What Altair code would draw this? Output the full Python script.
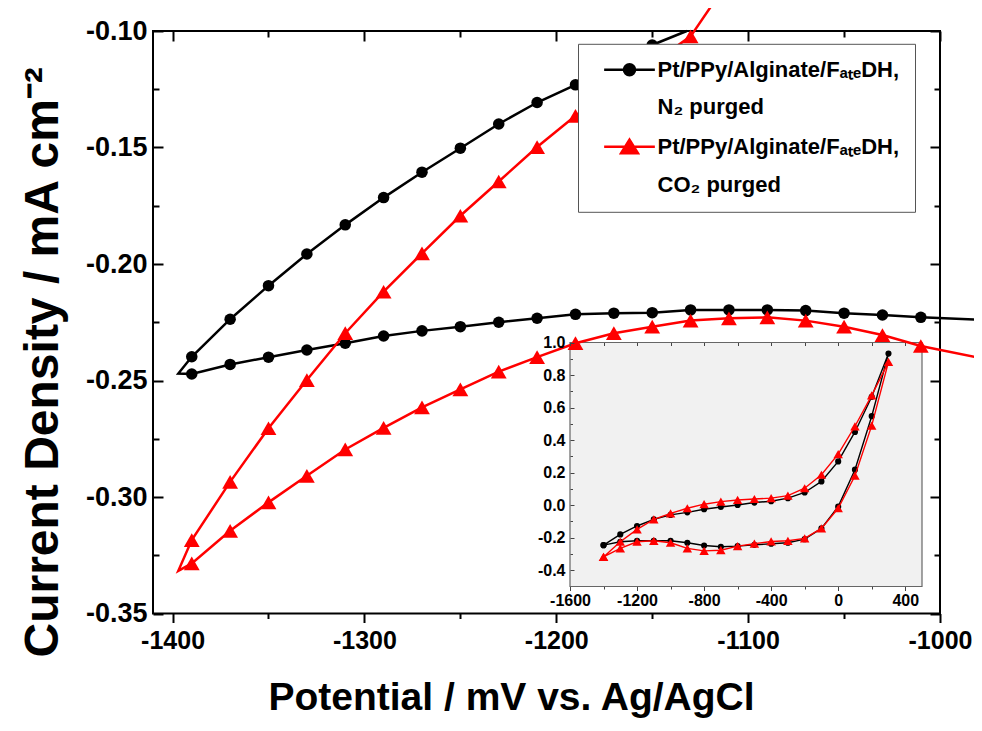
import altair as alt
import pandas as pd

# ---------------- main plot data (potential / mV, current density / mA cm^-2)
# N2 purged: lower branch (right -> left) then upper branch (left -> right)
N2_X = [-1010, -1030, -1050, -1070, -1090, -1110, -1130, -1150, -1170, -1190,
        -1210, -1230, -1250, -1270, -1290, -1310, -1330, -1350, -1370, -1390,
        -1390, -1370, -1350, -1330, -1310, -1290, -1270, -1250, -1230, -1210,
        -1190, -1170, -1150]
N2_Y = [-0.2229, -0.2219, -0.2211, -0.2200, -0.2197, -0.2197, -0.2197, -0.2209, -0.2211, -0.2216,
        -0.2233, -0.2250, -0.2269, -0.2287, -0.2309, -0.2340, -0.2369, -0.2400, -0.2431, -0.2472,
        -0.2398, -0.2237, -0.2093, -0.1957, -0.1832, -0.1715, -0.1606, -0.1503, -0.1399, -0.1307,
        -0.1231, -0.1145, -0.1060]
N2_START = (-978, -0.2240)
N2_VERTEX = (-1397, -0.2470)
N2_END = (-1132, -0.1000)

CO2_X = [-1010, -1030, -1050, -1070, -1090, -1110, -1130, -1150, -1170, -1190,
         -1210, -1230, -1250, -1270, -1290, -1310, -1330, -1350, -1370, -1390,
         -1390, -1370, -1350, -1330, -1310, -1290, -1270, -1250, -1230, -1210,
         -1190, -1170, -1150, -1130]
CO2_Y = [-0.2352, -0.2305, -0.2269, -0.2243, -0.2229, -0.2233, -0.2243, -0.2269, -0.2297, -0.2340,
         -0.2400, -0.2462, -0.2538, -0.2615, -0.2703, -0.2796, -0.2909, -0.3023, -0.3145, -0.3285,
         -0.3185, -0.2935, -0.2705, -0.2498, -0.2297, -0.2119, -0.1954, -0.1793, -0.1646, -0.1498,
         -0.1364, -0.1250, -0.1140, -0.1023]
CO2_START = (-978, -0.2405)
CO2_VERTEX = (-1397, -0.3317)
CO2_END = (-1117, -0.0866)
LOWER_COUNT = 20  # points on the lower branch before the vertex

# ---------------- inset data (full scan, 100 mV steps)
INSET_X = [-1400, -1300, -1200, -1100, -1000, -900, -800, -700, -600, -500, -400, -300, -200, -100, 0, 100, 200, 300,
           200, 100, 0, -100, -200, -300, -400, -500, -600, -700, -800, -900, -1000, -1100, -1200, -1300, -1400]
INSET_N2_Y = [-0.246, -0.225, -0.219, -0.219, -0.219, -0.231, -0.248, -0.256, -0.252, -0.244, -0.237, -0.231,
              -0.209, -0.143, -0.009, 0.218, 0.547, 0.932,
              0.666, 0.450, 0.269, 0.146, 0.078, 0.043, 0.024, 0.016, 0.001, -0.011, -0.025, -0.044, -0.060,
              -0.087, -0.128, -0.180, -0.246]
INSET_CO2_Y = [-0.318, -0.266, -0.225, -0.219, -0.231, -0.266, -0.281, -0.277, -0.252, -0.237, -0.223, -0.219,
               -0.204, -0.143, -0.019, 0.181, 0.489, 0.881,
               0.675, 0.485, 0.314, 0.187, 0.104, 0.059, 0.043, 0.038, 0.032, 0.022, 0.006, -0.019, -0.050,
               -0.087, -0.149, -0.225, -0.318]

# ---------------- axes / ticks
X_DOMAIN = [-1410.2, -1000]
Y_DOMAIN = [-0.35, -0.10]
X_MAJOR = [-1400, -1300, -1200, -1100, -1000]
X_MINOR = [-1350, -1250, -1150, -1050]
Y_MAJOR = [-0.35, -0.30, -0.25, -0.20, -0.15, -0.10]
Y_MINOR = [-0.325, -0.275, -0.225, -0.175, -0.125]

INSET_X_DOMAIN = [-1600, 500]
INSET_Y_DOMAIN = [-0.5, 1.0]
IX_MAJOR = [-1600, -1200, -800, -400, 0, 400]
IX_MINOR = [-1400, -1000, -600, -200, 200]
IY_MAJOR = [-0.4, -0.2, 0.0, 0.2, 0.4, 0.6, 0.8, 1.0]
IY_MINOR = [-0.3, -0.1, 0.1, 0.3, 0.5, 0.7, 0.9]

LEGEND_LABELS = ["Pt/PPy/Alginate/F\u2090\u209c\u2091DH,", "N\u2082 purged",
                 "Pt/PPy/Alginate/F\u2090\u209c\u2091DH, ", "CO\u2082 purged"]
LEGEND_COLORS = ["#000000", "transparent", "#ff0000", "transparent"]
LEGEND_SHAPES = ["M-3.9,0H3.9M-0.85,0A0.85,0.85,0,1,1,0.85,0A0.85,0.85,0,1,1,-0.85,0Z",
                 "circle",
                 "M-3.9,0H3.9M0,-1.1L1.3,1.0L-1.3,1.0Z",
                 "circle"]

# ---------------- layout
W, H = 787, 582.5
INSET_PX_X = [417, 769]
INSET_PX_Y = [555.5, 311.5]
FONT = "Liberation Sans, Arial, Helvetica, sans-serif"
MINUS = "replace(format(datum.value, '{f}'), '\u2212', '-')"


def series_df(xs, ys, start, vertex, end, n_lower):
    lx = [start[0]] + xs[:n_lower] + [vertex[0]] + xs[n_lower:] + [end[0]]
    ly = [start[1]] + ys[:n_lower] + [vertex[1]] + ys[n_lower:] + [end[1]]
    return pd.DataFrame({"x": lx, "y": ly, "i": range(len(lx))})


n2_line = series_df(N2_X, N2_Y, N2_START, N2_VERTEX, N2_END, LOWER_COUNT)
co2_line = series_df(CO2_X, CO2_Y, CO2_START, CO2_VERTEX, CO2_END, LOWER_COUNT)
n2_pts = pd.DataFrame({"x": N2_X, "y": N2_Y})
co2_pts = pd.DataFrame({"x": CO2_X, "y": CO2_Y})
inset_n2 = pd.DataFrame({"x": INSET_X, "y": INSET_N2_Y, "i": range(len(INSET_X))})
inset_co2 = pd.DataFrame({"x": INSET_X, "y": INSET_CO2_Y, "i": range(len(INSET_X))})
frame_df = pd.DataFrame({"x0": [X_DOMAIN[0]], "x1": [X_DOMAIN[1]], "y0": [Y_DOMAIN[0]], "y1": [Y_DOMAIN[1]]})
inset_bg = pd.DataFrame({"x0": [INSET_X_DOMAIN[0]], "x1": [INSET_X_DOMAIN[1]],
                         "y0": [INSET_Y_DOMAIN[0]], "y1": [INSET_Y_DOMAIN[1]]})
legend_df = pd.DataFrame({"k": LEGEND_LABELS})


def ax(**kw):
    base = dict(grid=False, domain=False, labels=False, ticks=True, title=None,
                tickColor="black", tickWidth=2, zindex=2, labelFlush=False)
    base.update(kw)
    return alt.Axis(**base)


xs = alt.Scale(domain=X_DOMAIN, nice=False, zero=False)
ys = alt.Scale(domain=Y_DOMAIN, nice=False, zero=False)

x_lab = ax(orient="bottom", values=X_MAJOR, labels=True, labelExpr=MINUS.format(f="d"),
           labelFont=FONT, labelFontSize=25, labelFontWeight="bold", labelColor="black",
           tickSize=9, labelPadding=6,
           title="Potential / mV vs. Ag/AgCl", titleFont=FONT, titleFontSize=39, titleFontWeight="bold",
           titleColor="black", titleX=358, titleY=96, titleBaseline="alphabetic", titleAlign="center")
x_min = ax(orient="bottom", values=X_MINOR, tickSize=5)
x_top_maj = ax(orient="bottom", offset=-H, values=X_MAJOR, tickSize=10)
x_top_min = ax(orient="bottom", offset=-H, values=X_MINOR, tickSize=6)

y_lab = ax(orient="left", values=Y_MAJOR, labels=True, ticks=False, labelExpr=MINUS.format(f=".2f"),
           labelFont=FONT, labelFontSize=27, labelFontWeight="bold", labelColor="black", labelPadding=6,
           title="Current Density / mA cm\u207b\u00b2", titleFont=FONT, titleFontSize=48,
           titleFontWeight="bold", titleColor="black", titleX=-96, titleY=626, titleAlign="left",
           titleAngle=270, titleBaseline="alphabetic")
y_left_maj = ax(orient="right", offset=-W, values=Y_MAJOR, tickSize=10)
y_left_min = ax(orient="right", offset=-W, values=Y_MINOR, tickSize=6)
y_right_maj = ax(orient="left", offset=-W, values=Y_MAJOR, tickSize=10)
y_right_min = ax(orient="left", offset=-W, values=Y_MINOR, tickSize=6)

frame = alt.Chart(frame_df).mark_rect(fillOpacity=0, stroke="black", strokeWidth=2).encode(
    x=alt.X("x0:Q", scale=xs, axis=x_lab), x2="x1:Q",
    y=alt.Y("y0:Q", scale=ys, axis=y_lab), y2="y1:Q")
n2_l = alt.Chart(n2_line).mark_line(color="black", strokeWidth=2.5).encode(
    x=alt.X("x:Q", scale=xs, axis=x_min), y=alt.Y("y:Q", scale=ys, axis=y_left_maj), order="i:Q")
n2_p = alt.Chart(n2_pts).mark_point(shape="circle", filled=True, size=133, color="black", opacity=1).encode(
    x=alt.X("x:Q", scale=xs, axis=x_top_maj), y=alt.Y("y:Q", scale=ys, axis=y_left_min))
co2_l = alt.Chart(co2_line).mark_line(color="#ff0000", strokeWidth=2.5).encode(
    x=alt.X("x:Q", scale=xs, axis=x_top_min), y=alt.Y("y:Q", scale=ys, axis=y_right_maj), order="i:Q")
co2_p = alt.Chart(co2_pts).mark_point(shape="triangle-up", filled=True, size=250, color="#ff0000",
                                      opacity=1).encode(
    x=alt.X("x:Q", scale=xs, axis=None), y=alt.Y("y:Q", scale=ys, axis=y_right_min))


def leg():
    return alt.Legend(orient="none", legendX=425, legendY=12.8, title=None, symbolSize=169,
                      symbolStrokeWidth=2.5, symbolOpacity=1, labelFont=FONT, labelFontSize=22,
                      labelFontWeight="bold", labelColor="black", labelLimit=400, padding=15,
                      rowPadding=14.5, symbolOffset=25.5, labelOffset=17, fillColor="white",
                      strokeColor="#555555")


legend_layer = alt.Chart(legend_df).mark_point(filled=True, opacity=0).encode(
    color=alt.Color("k:N", scale=alt.Scale(domain=LEGEND_LABELS, range=LEGEND_COLORS), legend=leg()),
    stroke=alt.Stroke("k:N", scale=alt.Scale(domain=LEGEND_LABELS, range=LEGEND_COLORS), legend=leg()),
    shape=alt.Shape("k:N", scale=alt.Scale(domain=LEGEND_LABELS, range=LEGEND_SHAPES), legend=leg()))

main = alt.layer(frame, n2_l, n2_p, co2_l, co2_p, legend_layer).resolve_axis(x="independent", y="independent")

# ---------------- inset
ixs = alt.Scale(domain=INSET_X_DOMAIN, range=INSET_PX_X, nice=False, zero=False)
iys = alt.Scale(domain=INSET_Y_DOMAIN, range=INSET_PX_Y, nice=False, zero=False)
off_b = INSET_PX_Y[0] - H
off_t = INSET_PX_Y[1] - H

ix_lab = ax(orient="bottom", offset=off_b, values=IX_MAJOR, labels=True, labelExpr=MINUS.format(f="d"),
            labelFont=FONT, labelFontSize=16, labelFontWeight="bold", labelColor="black",
            tickSize=4, tickWidth=1, tickColor="#444444", labelPadding=2)
ix_min = ax(orient="bottom", offset=off_b, values=IX_MINOR, tickSize=2.5, tickWidth=1, tickColor="#444444")
ix_top = ax(orient="bottom", offset=off_t, values=IX_MAJOR + IX_MINOR, tickSize=3, tickWidth=1,
            tickColor="#444444")
iy_lab = ax(orient="left", offset=-INSET_PX_X[0], values=IY_MAJOR, labels=True, ticks=False,
            labelExpr=MINUS.format(f=".1f"), labelFont=FONT, labelFontSize=16, labelFontWeight="bold",
            labelColor="black", labelPadding=5)
iy_maj = ax(orient="right", offset=INSET_PX_X[0] - W, values=IY_MAJOR, tickSize=4, tickWidth=1,
            tickColor="#444444")
iy_min = ax(orient="right", offset=INSET_PX_X[0] - W, values=IY_MINOR, tickSize=2.5, tickWidth=1,
            tickColor="#444444")

i_bg = alt.Chart(inset_bg).mark_rect(fill="#f1f1f1", stroke="#666666", strokeWidth=1.2).encode(
    x=alt.X("x0:Q", scale=ixs, axis=ix_lab), x2="x1:Q",
    y=alt.Y("y0:Q", scale=iys, axis=iy_lab), y2="y1:Q")
i_n2_l = alt.Chart(inset_n2).mark_line(color="black", strokeWidth=1.4).encode(
    x=alt.X("x:Q", scale=ixs, axis=ix_min), y=alt.Y("y:Q", scale=iys, axis=iy_maj), order="i:Q")
i_n2_p = alt.Chart(inset_n2).mark_point(shape="circle", filled=True, size=38, color="black", opacity=1).encode(
    x=alt.X("x:Q", scale=ixs, axis=ix_top), y=alt.Y("y:Q", scale=iys, axis=iy_min))
i_co2_l = alt.Chart(inset_co2).mark_line(color="#ff0000", strokeWidth=1.4).encode(
    x=alt.X("x:Q", scale=ixs, axis=None), y=alt.Y("y:Q", scale=iys, axis=None), order="i:Q")
i_co2_p = alt.Chart(inset_co2).mark_point(shape="triangle-up", filled=True, size=90, color="#ff0000",
                                          opacity=1).encode(
    x=alt.X("x:Q", scale=ixs, axis=None), y=alt.Y("y:Q", scale=iys, axis=None))

inset = alt.layer(i_bg, i_n2_l, i_n2_p, i_co2_l, i_co2_p).resolve_axis(x="independent", y="independent")

chart = alt.layer(inset, main).resolve_scale(x="independent", y="independent").resolve_axis(
    x="independent", y="independent").properties(
    width=W, height=H, autosize=alt.AutoSizeParams(type="none"),
    padding={"left": 145, "top": 23, "right": 34, "bottom": 105},
    background="white").configure_view(stroke="transparent")

chart.save("out.html", embed_options={"renderer": "svg", "actions": False})
